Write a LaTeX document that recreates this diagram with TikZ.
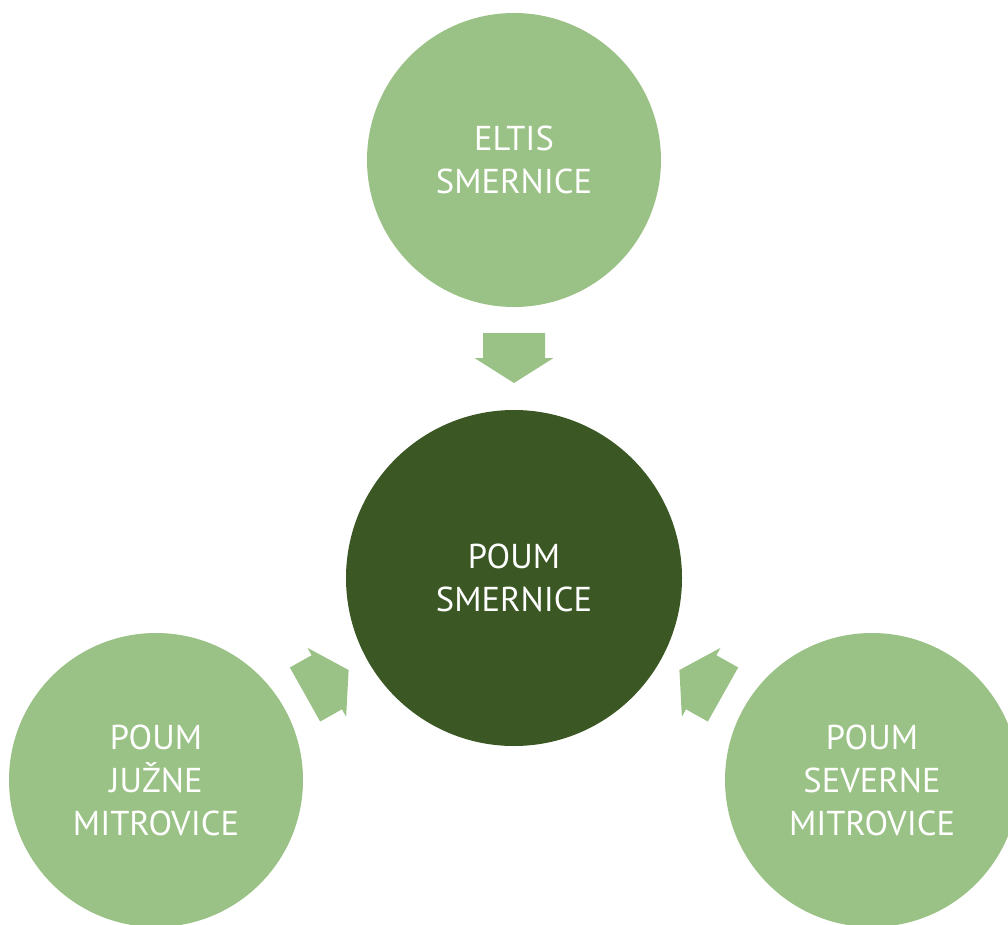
\documentclass[tikz,border=0pt]{standalone}
\usepackage{fontspec}
\setmainfont{PT Sans}
\definecolor{lightg}{HTML}{9BC286}
\definecolor{darkg}{HTML}{3A5724}
\tikzset{
  bubble/.style={circle, fill=lightg, text=white, align=center, font=\fontsize{34.5}{43}\selectfont, inner sep=0pt},
  hub/.style={bubble, fill=darkg},
  blockarrow/.pic={\fill[lightg] (0,-31) -- (25,-31) -- (25,-39.5) -- (50,0) -- (25,39.5) -- (25,31) -- (0,31) -- cycle;}
}
\begin{document}
\begin{tikzpicture}[x=1pt,y=-1pt]
\useasboundingbox (0,0) rectangle (1008,925);
\begin{scope}
\clip (0,0) rectangle (1008,925);
\node[hub, minimum size=336pt] (c) at (514,578) {POUM\\SMERNICE};
\node[bubble, minimum size=294pt] (t) at (514,160) {ELTIS\\SMERNICE};
\node[bubble, minimum size=294pt] (l) at (156,780) {POUM\\JUŽNE\\MITROVICE};
\node[bubble, minimum size=294pt] (r) at (872,780) {POUM\\SEVERNE\\MITROVICE};
\end{scope}
\coordinate (at) at (514,333);
\coordinate (al) at (305,694.5);
\coordinate (ar) at (723,694.5);
\pic[shift={(at)}, rotate=-90] {blockarrow};
\pic[shift={(al)}, rotate=29.3] {blockarrow};
\pic[shift={(ar)}, rotate=150.7] {blockarrow};
\end{tikzpicture}
\end{document}
